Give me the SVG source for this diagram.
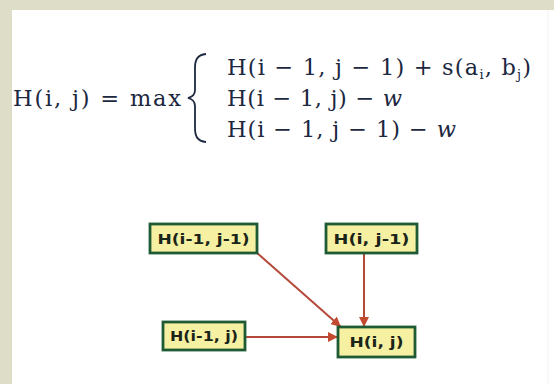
<svg xmlns="http://www.w3.org/2000/svg" width="554" height="384" viewBox="0 0 554 384">
<style>
.eq{font-family:"DejaVu Serif","Liberation Serif",serif;font-size:22.5px;fill:#1c2740}
.it{font-style:italic}
.sub{font-size:13px}
.box rect{fill:#f6f0a2;stroke:#1e5a34;stroke-width:2.8}
.box text{font-family:"DejaVu Sans",Verdana,sans-serif;font-weight:bold;font-size:14px;fill:#1a2418;text-anchor:middle}
.conn line{stroke:#b4493a;stroke-width:2}
</style>
<defs>
<marker id="ah" viewBox="0 0 10 10" refX="10" refY="5" markerWidth="5" markerHeight="5" orient="auto">
<path d="M0,0 L10,5 L0,10 z" fill="#c24a30"/>
</marker>
</defs>
<rect x="0" y="0" width="554" height="384" fill="#dedec8"/>
<rect x="12" y="10" width="542" height="374" fill="#ffffff"/>
<line x1="548" y1="10" x2="548" y2="384" stroke="#f2f2ee" stroke-width="1"/>

<g id="equation">
<text class="eq" x="13" y="106" textLength="168" lengthAdjust="spacing">H(i, j) = max</text>
<path d="M206,54 C197,55 195,60 195,68 L195,90 C195,95 192,97 188,98 C192,99 195,101 195,106 L195,128 C195,136 197,141 206,142" fill="none" stroke="#1c2740" stroke-width="1.8"/>
<text class="eq" x="227" y="75" textLength="304" lengthAdjust="spacing">H(i − 1, j − 1) + s(a<tspan class="sub" dy="4">i</tspan><tspan dy="-4">, b</tspan><tspan class="sub" dy="4">j</tspan><tspan dy="-4">)</tspan></text>
<text class="eq" x="227" y="106" textLength="175" lengthAdjust="spacing">H(i − 1, j) − <tspan class="it">w</tspan></text>
<text class="eq" x="227" y="137" textLength="229" lengthAdjust="spacing">H(i − 1, j − 1) − <tspan class="it">w</tspan></text>
</g>

<g class="conn" id="connectors">
<line x1="256" y1="252" x2="341" y2="327" marker-end="url(#ah)"/>
<line x1="364" y1="253" x2="364" y2="327" marker-end="url(#ah)"/>
<line x1="245" y1="337" x2="338" y2="337" marker-end="url(#ah)"/>
</g>

<g class="box" id="n1"><rect x="150" y="224" width="107" height="29"/><text x="203.5" y="243.5" textLength="92" lengthAdjust="spacingAndGlyphs">H(i-1, j-1)</text></g>
<g class="box" id="n2"><rect x="326" y="224" width="91" height="29"/><text x="371.5" y="243.5" textLength="76" lengthAdjust="spacingAndGlyphs">H(i, j-1)</text></g>
<g class="box" id="n3"><rect x="163" y="322" width="82" height="28"/><text x="204" y="341" textLength="68" lengthAdjust="spacingAndGlyphs">H(i-1, j)</text></g>
<g class="box" id="n4"><rect x="338" y="327" width="77" height="30"/><text x="376.5" y="347" textLength="54" lengthAdjust="spacingAndGlyphs">H(i, j)</text></g>
</svg>
